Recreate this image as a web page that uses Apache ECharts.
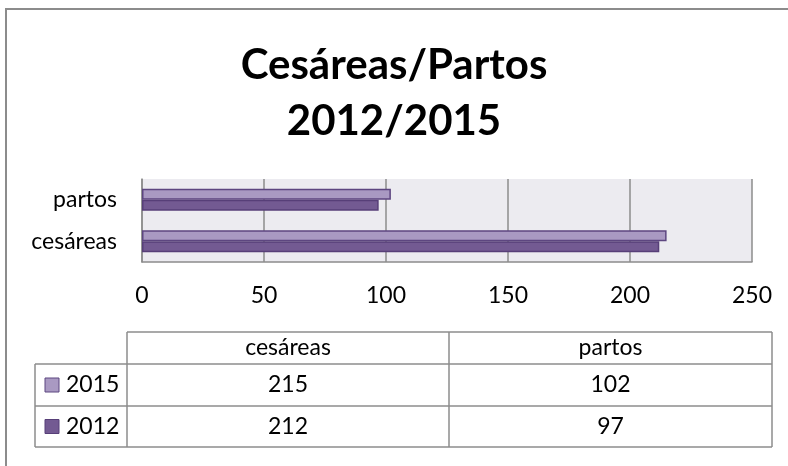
<!DOCTYPE html>
<html>
<head>
<meta charset="utf-8">
<script src="https://cdn.jsdelivr.net/npm/echarts@6/dist/echarts.min.js"></script>
<style>
  html, body { margin: 0; padding: 0; background: #fff; }
  #chart { width: 788px; height: 466px; }
</style>
</head>
<body>
<div id="chart"></div>
<script>
// Cesáreas / partos, 2012 vs 2015 — horizontal bars with a data table below.
var categories = ["cesáreas", "partos"];
var seriesNames = ["2015", "2012"];
var values2015 = [215, 102];
var values2012 = [212, 97];
var xTicks = { min: 0, max: 250, interval: 50 };

var FONT = "Lato, 'Open Sans', sans-serif";
var colors = { "2015": "#a999c2", "2012": "#735a92" };
var borders = { "2015": "#5d4680", "2012": "#573f78" };
var lineGray = "#8c8c8c";
var FS = 23;

(function () {
  var chart = echarts.init(document.getElementById("chart"), null, { renderer: "canvas" });
  var valuesBySeries = { "2015": values2015, "2012": values2012 };

  // data table layout
  var tbl = { left: 35, labelRight: 127, mid: 449, right: 772, top: 332, head: 364, rows: [364, 406, 447] };
  var colEdges = [tbl.labelRight, tbl.mid, tbl.right];
  var g = [];

  function hline(x1, x2, y) {
    g.push({ type: "line", shape: { x1: x1, y1: y, x2: x2, y2: y }, style: { stroke: lineGray, lineWidth: 1.5 }, silent: true });
  }
  function vline(x, y1, y2) {
    g.push({ type: "line", shape: { x1: x, y1: y1, x2: x, y2: y2 }, style: { stroke: lineGray, lineWidth: 1.5 }, silent: true });
  }
  function text(str, x, y, align) {
    g.push({
      type: "text", x: x, y: y, silent: true,
      style: { text: str, fontFamily: FONT, fontSize: FS, fill: "#000", align: align || "center", verticalAlign: "middle" }
    });
  }

  // outer frame of the chart area (cut off right and bottom)
  g.push({ type: "rect", shape: { x: 6, y: 9, width: 900, height: 600 }, style: { fill: null, stroke: lineGray, lineWidth: 2 }, silent: true });

  hline(tbl.labelRight, tbl.right, tbl.top);
  tbl.rows.forEach(function (y) { hline(tbl.left, tbl.right, y); });
  vline(tbl.left, tbl.head, tbl.rows[2]);
  colEdges.forEach(function (x) { vline(x, tbl.top, tbl.rows[2]); });

  categories.forEach(function (c, ci) {
    var cx = (colEdges[ci] + colEdges[ci + 1]) / 2;
    text(c, cx, (tbl.top + tbl.head) / 2);
    seriesNames.forEach(function (s, si) {
      var cy = (tbl.rows[si] + tbl.rows[si + 1]) / 2;
      text(String(valuesBySeries[s][ci]), cx, cy);
    });
  });
  seriesNames.forEach(function (s, si) {
    var cy = (tbl.rows[si] + tbl.rows[si + 1]) / 2;
    g.push({ type: "rect", shape: { x: 45, y: cy - 7, width: 14, height: 14 }, style: { fill: colors[s], stroke: borders[s], lineWidth: 1 }, silent: true });
    text(s, 66, cy, "left");
  });

  chart.setOption({
    animation: false,
    backgroundColor: "#fff",
    title: {
      text: "Cesáreas/Partos\n2012/2015",
      left: "center",
      top: 32,
      textStyle: { fontFamily: FONT, fontSize: 42, fontWeight: "bold", color: "#000", lineHeight: 56 }
    },
    grid: {
      left: 142, right: 36, top: 179, bottom: 204,
      show: true, backgroundColor: "#ecebf0", borderWidth: 0
    },
    xAxis: {
      type: "value",
      min: xTicks.min, max: xTicks.max, interval: xTicks.interval,
      axisLine: { show: true, lineStyle: { color: lineGray, width: 1.5 } },
      axisTick: { show: false },
      axisLabel: { color: "#000", fontFamily: FONT, fontSize: FS, margin: 22 },
      splitLine: { show: true, lineStyle: { color: lineGray, width: 1.5 } }
    },
    yAxis: {
      type: "category",
      data: categories,
      axisLine: { show: true, lineStyle: { color: lineGray, width: 1.5 } },
      axisTick: { show: false },
      axisLabel: { color: "#000", fontFamily: FONT, fontSize: FS, margin: 25 }
    },
    series: seriesNames.map(function (s) {
      return {
        name: s, type: "bar",
        data: valuesBySeries[s],
        barWidth: 11, barGap: "0%",
        itemStyle: { color: colors[s], borderColor: borders[s], borderWidth: 1.5 }
      };
    }),
    graphic: g
  });
})();
</script>
</body>
</html>
